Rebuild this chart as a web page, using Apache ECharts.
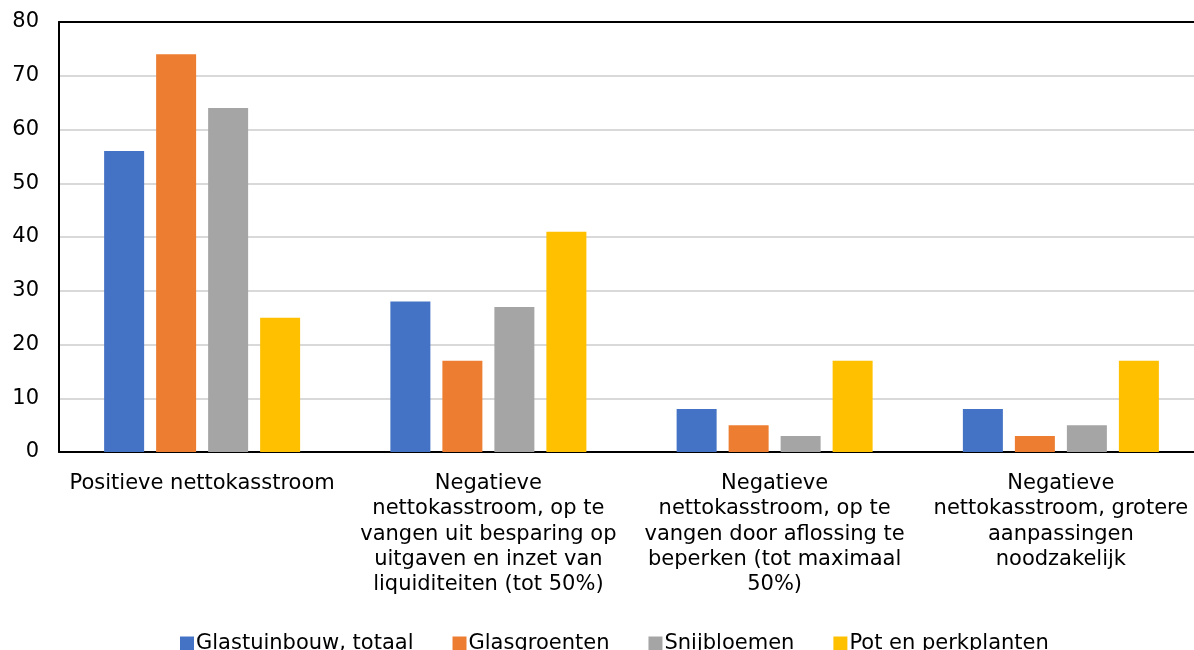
<!DOCTYPE html>
<html>
<head>
<meta charset="utf-8">
<script src="https://cdn.jsdelivr.net/npm/echarts@6/dist/echarts.min.js"></script>
<style>
  html, body { margin: 0; padding: 0; background: #fff; }
  #chart { width: 1194px; height: 650px; }
</style>
</head>
<body>
<div id="chart"></div>
<script>
// categorieën (met regelafbrekingen zoals in het origineel)
var categories = [
  'Positieve nettokasstroom',
  'Negatieve\nnettokasstroom, op te\nvangen uit besparing op\nuitgaven en inzet van\nliquiditeiten (tot 50%)',
  'Negatieve\nnettokasstroom, op te\nvangen door aflossing te\nbeperken (tot maximaal\n50%)',
  'Negatieve\nnettokasstroom, grotere\naanpassingen\nnoodzakelijk'
];
var seriesNames = ['Glastuinbouw, totaal', 'Glasgroenten', 'Snijbloemen', 'Pot en perkplanten'];
var glastuinbouw = [56, 28, 8, 8];
var glasgroenten = [74, 17, 5, 3];
var snijbloemen = [64, 27, 3, 5];
var potPerk = [25, 41, 17, 17];
var colors = ['#4472c4', '#ed7d31', '#a5a5a5', '#ffc000'];

var chart = echarts.init(document.getElementById('chart'));
var font = 'Verdana, "DejaVu Sans", sans-serif';

function bar(name, data) {
  return {
    name: name,
    type: 'bar',
    data: data,
    barWidth: 40,
    barGap: '30%'
  };
}

chart.setOption({
  color: colors,
  animation: false,
  textStyle: { fontFamily: font },
  // plotvlak loopt iets voorbij de rechterrand
  grid: { left: 59, right: -10, top: 22, bottom: 198, outerBoundsMode: 'none' },
  legend: {
    top: 628,
    left: 175,
    itemWidth: 14,
    itemHeight: 14,
    itemGap: 39,
    icon: 'rect',
    textStyle: { fontSize: 21, color: '#000', fontFamily: font, padding: [0, 0, 0, -3] },
    data: seriesNames
  },
  xAxis: [{
    type: 'category',
    data: categories,
    axisLine: { lineStyle: { color: '#000', width: 2 } },
    axisTick: { show: false },
    axisLabel: {
      interval: 0,
      margin: 19,
      fontSize: 21,
      lineHeight: 25.3,
      color: '#000',
      fontFamily: font
    }
  }, {
    // bovenrand van het plotvlak
    type: 'category',
    position: 'top',
    data: categories,
    axisLine: { lineStyle: { color: '#000', width: 2 } },
    axisTick: { show: false },
    axisLabel: { show: false }
  }],
  yAxis: {
    type: 'value',
    min: 0, max: 80, interval: 10,
    axisLine: { show: true, lineStyle: { color: '#000', width: 2 } },
    axisTick: { show: false },
    axisLabel: { fontSize: 21, color: '#000', margin: 20, fontFamily: font },
    splitLine: { lineStyle: { color: '#d9d9d9', width: 2 } }
  },
  series: [
    bar(seriesNames[0], glastuinbouw),
    bar(seriesNames[1], glasgroenten),
    bar(seriesNames[2], snijbloemen),
    bar(seriesNames[3], potPerk)
  ]
});
</script>
</body>
</html>
